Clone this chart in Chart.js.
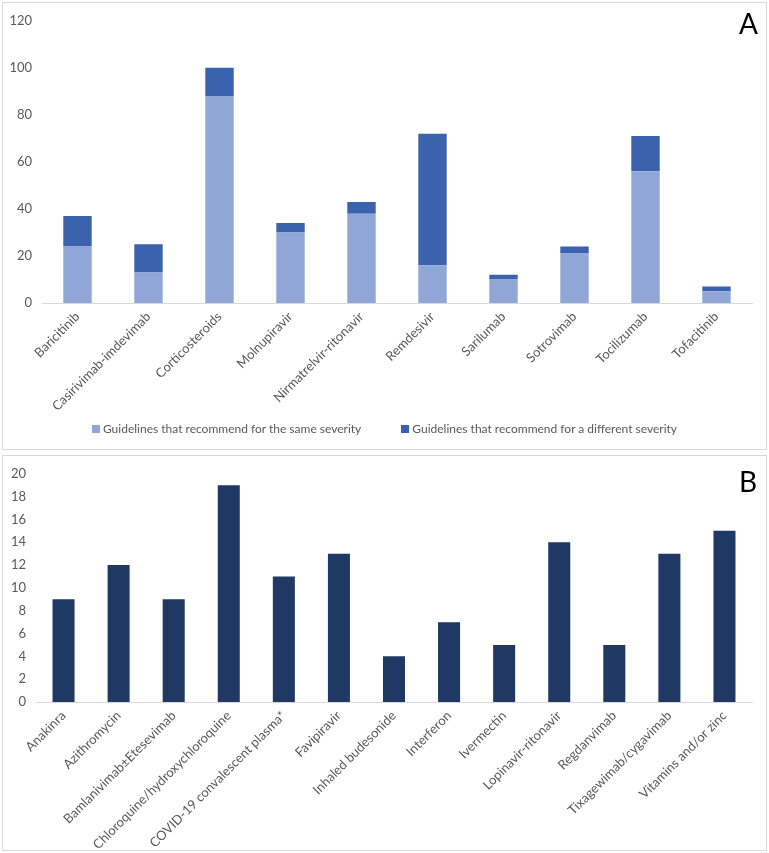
<!DOCTYPE html>
<html>
<head>
<meta charset="utf-8">
<script src="https://cdn.jsdelivr.net/npm/chart.js@4/dist/chart.umd.min.js"></script>
<style>
  html, body { margin:0; padding:0; background:#ffffff; }
  body { width:769px; height:853px; position:relative; overflow:hidden; }
  .panel { position:absolute; left:2px; width:765px; box-sizing:border-box; border:1px solid #D9D9D9; background:#fff; }
  #pa { top:2px; height:448px; }
  #pb { top:455px; height:396px; }
  canvas { position:absolute; left:0; top:0; }
  .tag { position:absolute; font-family:Lato, "Open Sans", sans-serif; font-size:28px; color:#000; line-height:1; }
  #legendA { position:absolute; left:0; width:763px; top:418px; display:flex; justify-content:center; gap:40px;
             font-family:Lato, "Open Sans", sans-serif; font-size:12px; color:#595959; line-height:16px; }
  #legendA .item { display:flex; align-items:center; }
  #legendA .sw { width:8px; height:8px; margin-right:3px; display:inline-block; }
</style>
</head>
<body>
<div class="panel" id="pa"><canvas id="ca" width="763" height="446"></canvas><div class="tag" style="left:736px; top:6px;">A</div><div id="legendA"></div></div>
<div class="panel" id="pb"><canvas id="cb" width="763" height="394"></canvas><div class="tag" style="left:736px; top:11px;">B</div></div>
<script>
// ---- Panel A data ----
const catsA = ["Baricitinib","Casirivimab-imdevimab","Corticosteroids","Molnupiravir","Nirmatrelvir-ritonavir","Remdesivir","Sarilumab","Sotrovimab","Tocilizumab","Tofacitinib"];
const sameSeverity = [24, 13, 88, 30, 38, 16, 10, 21, 56, 5];
const differentSeverity = [13, 12, 12, 4, 5, 56, 2, 3, 15, 2];
const seriesNamesA = ["Guidelines that recommend for the same severity", "Guidelines that recommend for a different severity"];
const ticksA = [0, 20, 40, 60, 80, 100, 120];

// ---- Panel B data ----
const catsB = ["Anakinra","Azithromycin","Bamlanivimab±Etesevimab","Chloroquine/hydroxychloroquine","COVID-19 convalescent plasma*","Favipiravir","Inhaled budesonide","Interferon","Ivermectin","Lopinavir-ritonavir","Regdanvimab","Tixagewimab/cygavimab","Vitamins and/or zinc"];
const valuesB = [9, 12, 9, 19, 11, 13, 4, 7, 5, 14, 5, 13, 15];
const ticksB = [0, 2, 4, 6, 8, 10, 12, 14, 16, 18, 20];

const FONT = "Lato, 'Open Sans', sans-serif";
const GRAY = "#595959";
const COLORS_A = ["#8FA6D6", "#3B63AD"];

function yAxis(tickList, width) {
  return {
    stacked: true, min: tickList[0], max: tickList[tickList.length - 1],
    afterBuildTicks: s => { s.ticks = tickList.map(v => ({ value: v })); },
    ticks: { color: GRAY, font: { family: FONT, size: 13 }, padding: 10 },
    grid: { display: false, drawTicks: false },
    border: { display: false },
    afterFit: s => { s.width = width; }
  };
}
function xAxis(height) {
  return {
    stacked: true,
    ticks: { color: GRAY, font: { family: FONT, size: 13 }, minRotation: 45, maxRotation: 45, padding: 6, autoSkip: false },
    grid: { display: false, drawTicks: false },
    border: { display: true, color: "#D9D9D9", width: 1 },
    afterFit: s => { s.height = height; }
  };
}

const chartA = new Chart(document.getElementById('ca'), {
  type: 'bar',
  data: {
    labels: catsA,
    datasets: [
      { label: seriesNamesA[0], data: sameSeverity, backgroundColor: COLORS_A[0], categoryPercentage: 1, barPercentage: 0.4 },
      { label: seriesNamesA[1], data: differentSeverity, backgroundColor: COLORS_A[1], categoryPercentage: 1, barPercentage: 0.4 }
    ]
  },
  options: {
    responsive: false, animation: false,
    layout: { padding: { top: 14, right: 14, left: 0, bottom: 0 } },
    plugins: { tooltip: { enabled: false }, legend: { display: false } },
    scales: { x: xAxis(146), y: yAxis(ticksA, 39) }
  }
});

// HTML legend built from the chart's datasets
const lg = document.getElementById('legendA');
chartA.data.datasets.forEach(ds => {
  const it = document.createElement('span'); it.className = 'item';
  const sw = document.createElement('span'); sw.className = 'sw'; sw.style.background = ds.backgroundColor;
  const tx = document.createElement('span'); tx.textContent = ds.label;
  it.appendChild(sw); it.appendChild(tx); lg.appendChild(it);
});

new Chart(document.getElementById('cb'), {
  type: 'bar',
  data: {
    labels: catsB,
    datasets: [
      { label: "Guidelines", data: valuesB, backgroundColor: "#203864", categoryPercentage: 1, barPercentage: 0.4 }
    ]
  },
  options: {
    responsive: false, animation: false,
    layout: { padding: { top: 15, right: 14, left: 0, bottom: 0 } },
    plugins: { tooltip: { enabled: false }, legend: { display: false } },
    scales: { x: xAxis(148), y: yAxis(ticksB, 33) }
  }
});
</script>
</body>
</html>
